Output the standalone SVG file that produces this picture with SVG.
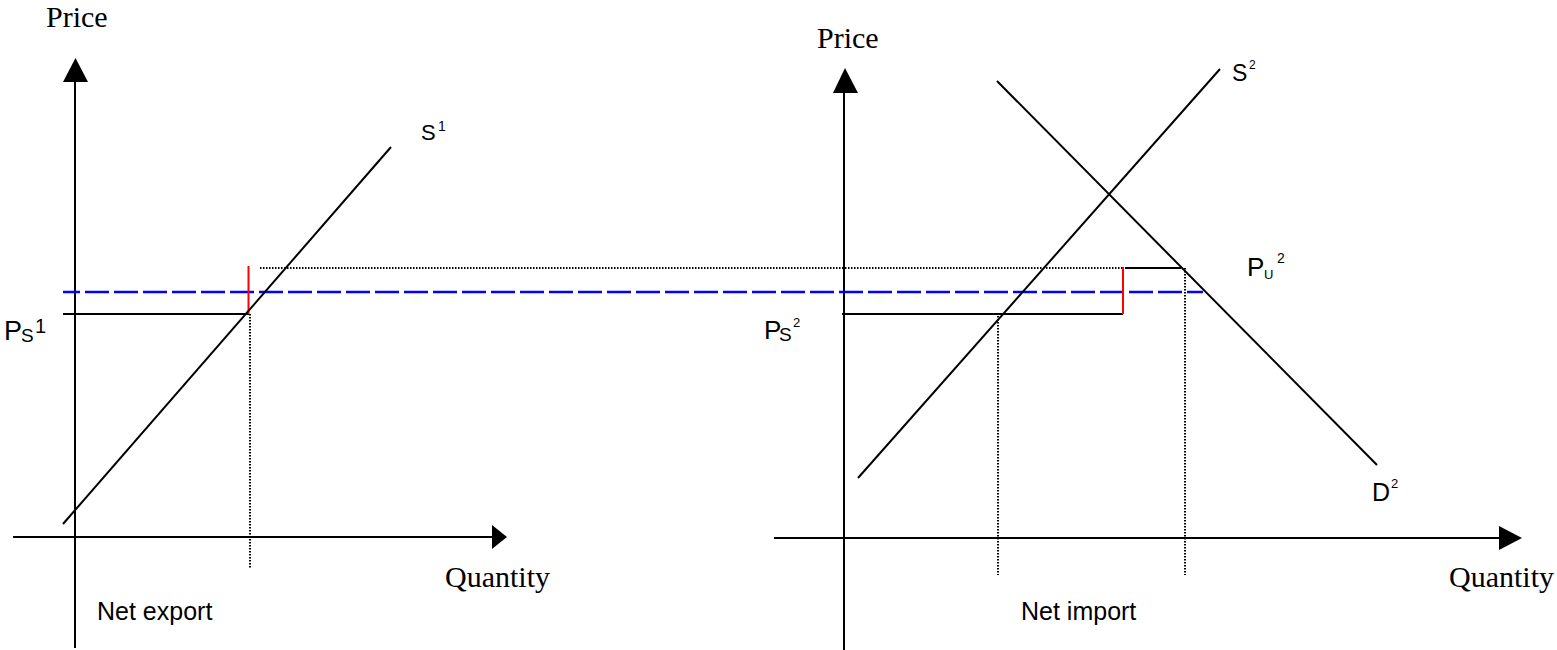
<svg xmlns="http://www.w3.org/2000/svg" width="1557" height="650" viewBox="0 0 1557 650">
<style>
.ax{stroke:#000;stroke-width:2;fill:none}
.cv{stroke:#000;stroke-width:2;fill:none}
.hl{stroke:#000;stroke-width:2;fill:none}
.red{stroke:#ff0000;stroke-width:2;fill:none}
.dot{stroke:#000;stroke-width:2;stroke-dasharray:1.5 1.5;fill:none}
.blue{stroke:#0000ff;stroke-width:2.6;stroke-dasharray:24 5;fill:none}
.ah{fill:#000}
.tm{font-family:"Liberation Serif","Times New Roman",serif;font-size:30px;fill:#000}
.sa{font-family:"Liberation Sans",Arial,sans-serif;fill:#000}
</style>
<rect width="1557" height="650" fill="#fff"/>
<g id="left-axes">
<line class="ax" x1="75" y1="80" x2="75" y2="648"/>
<polygon class="ah" points="75.5,58 63,82 88,82"/>
<line class="ax" x1="13" y1="537" x2="494" y2="537"/>
<polygon class="ah" points="507,537 492,525 492,549"/>
<text class="tm" x="46" y="27">Price</text>
<text class="tm" x="445" y="587">Quantity</text>
</g>
<g id="right-axes">
<line class="ax" x1="844" y1="90" x2="844" y2="650"/>
<polygon class="ah" points="845,68 833,93 858,93"/>
<line class="ax" x1="774" y1="538" x2="1501" y2="538"/>
<polygon class="ah" points="1522,538 1499,526 1499,550"/>
<text class="tm" x="817" y="48">Price</text>
<text class="tm" x="1449" y="587">Quantity</text>
</g>
<g id="connectors">
<line class="blue" x1="63" y1="292" x2="1203" y2="292" stroke-dashoffset="7"/>
<line class="dot" x1="260" y1="268" x2="1122" y2="268"/>
<line class="dot" x1="250" y1="314" x2="250" y2="568"/>
<line class="dot" x1="998" y1="316" x2="998" y2="575"/>
<line class="dot" x1="1185" y1="268" x2="1185" y2="575"/>
<line class="hl" x1="63" y1="314" x2="249" y2="314"/>
<line class="red" x1="248.5" y1="266" x2="248.5" y2="314"/>
<line class="hl" x1="842" y1="314" x2="1123" y2="314"/>
<line class="red" x1="1123" y1="267" x2="1123" y2="314"/>
<line class="hl" x1="1125" y1="268" x2="1181" y2="268"/>
</g>
<g id="S1">
<line class="cv" x1="63" y1="524" x2="391" y2="147"/>
<text class="sa" x="421" y="140" font-size="22">S</text>
<text class="sa" x="438" y="131" font-size="14">1</text>
</g>
<g id="S2">
<line class="cv" x1="858" y1="478" x2="1220" y2="69"/>
<text class="sa" x="1232" y="81" font-size="23">S</text>
<text class="sa" x="1249" y="69" font-size="12">2</text>
</g>
<g id="D2">
<line class="cv" x1="997" y1="81" x2="1377" y2="465"/>
<text class="sa" x="1372" y="501" font-size="25">D</text>
<text class="sa" x="1391" y="488" font-size="13">2</text>
</g>
<g id="PS1">
<text class="sa" x="4" y="340" font-size="27">P</text>
<text class="sa" x="21" y="342" font-size="19">S</text>
<text class="sa" x="35" y="333" font-size="20">1</text>
</g>
<g id="PS2">
<text class="sa" x="764" y="339" font-size="26">P</text>
<text class="sa" x="779" y="341" font-size="19">S</text>
<text class="sa" x="793" y="327" font-size="13">2</text>
</g>
<g id="PU2">
<text class="sa" x="1247" y="276" font-size="26">P</text>
<text class="sa" x="1264" y="279" font-size="13">U</text>
<text class="sa" x="1277" y="263" font-size="14">2</text>
</g>
<g id="labels">
<text class="sa" x="97" y="620" font-size="25">Net export</text>
<text class="sa" x="1021" y="620" font-size="25">Net import</text>
</g>
</svg>
